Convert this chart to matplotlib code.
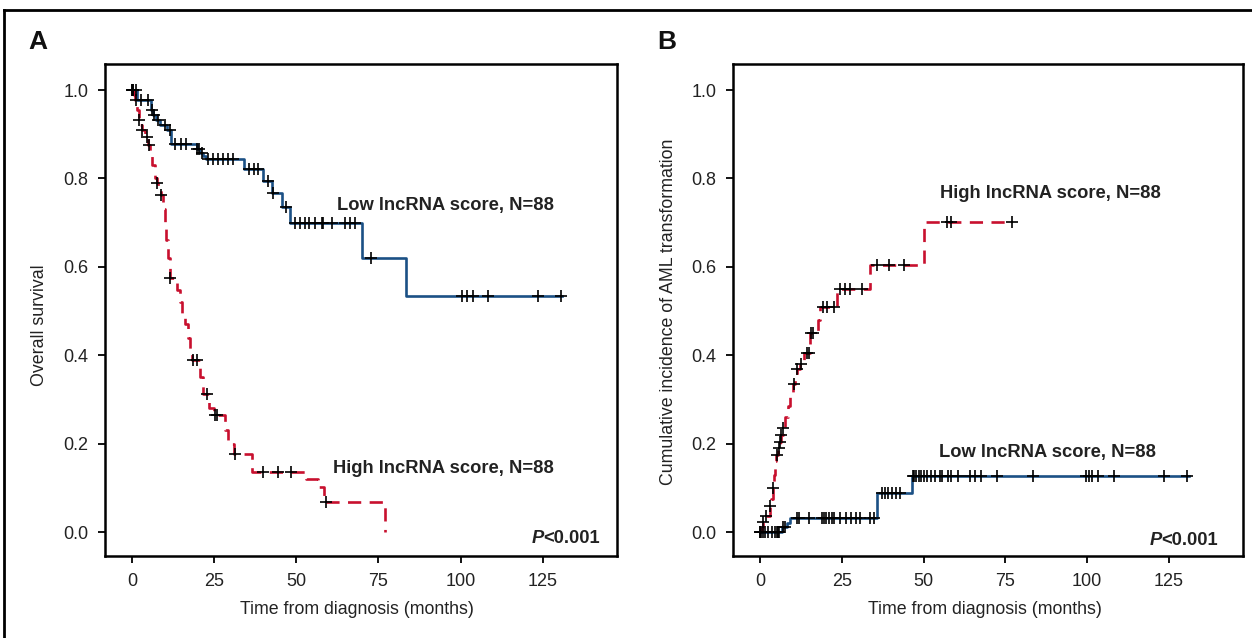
import numpy as np
import matplotlib
matplotlib.use("Agg")
import matplotlib.pyplot as plt
from matplotlib import font_manager as fm
from matplotlib.lines import Line2D

# ---------------- data ----------------
# Panel A: overall survival (Kaplan-Meier steps)
a_low_t = [0, 1.5, 5.8, 6.5, 7.3, 8.5, 10.8, 11.8, 19.8, 20.8, 21.7, 22.5, 34.0, 40.0, 42.5, 45.8, 48.0, 69.9, 83.5]
a_low_s = [1.0, 0.977, 0.955, 0.943, 0.932, 0.920, 0.909, 0.877, 0.867, 0.858, 0.851, 0.845, 0.821, 0.794, 0.767, 0.735, 0.699, 0.621, 0.534]
a_low_end = 131.0
a_low_cens = [0, 0.3, 1.2, 2.7, 5.0, 6.0, 6.8, 7.8, 10.0, 11.6, 13.2, 14.9, 16.4, 19.9, 20.4, 21.2, 23.0,
              24.6, 26.2, 27.7, 29.2, 30.7, 35.5, 37.0, 38.5, 41.5, 43.0, 47.0, 49.6, 51.0, 52.6, 54.0,
              55.7, 57.8, 58.2, 61.0, 64.8, 66.3, 67.8, 72.6, 100.3, 102.0, 103.8, 108.4, 123.6, 130.7]

a_high_t = [0, 0.5, 1.0, 1.5, 2.0, 2.5, 3.0, 4.0, 5.0, 5.5, 6.0, 7.0, 7.5, 8.0, 8.7, 9.5, 10.0, 10.5, 11.0,
            11.6, 13.6, 14.6, 15.3, 16.0, 17.0, 17.6, 18.3, 20.7, 21.7, 23.5, 25.0, 28.3, 29.3, 31.0, 36.4,
            53.1, 56.7, 58.5, 77.1]
a_high_s = [1.0, 0.989, 0.977, 0.955, 0.932, 0.920, 0.909, 0.893, 0.875, 0.855, 0.830, 0.800, 0.789, 0.775,
            0.762, 0.730, 0.700, 0.660, 0.620, 0.576, 0.547, 0.520, 0.495, 0.470, 0.440, 0.410, 0.390, 0.350,
            0.312, 0.280, 0.265, 0.230, 0.200, 0.176, 0.137, 0.120, 0.103, 0.069, 0.0]
a_high_cens = [0, 0.3, 1.2, 2.0, 3.0, 4.5, 5.3, 7.5, 8.7, 11.6, 18.6, 19.9, 22.9, 25.2, 25.9, 31.3, 40.0, 44.3, 48.4, 59.0]

# Panel B: cumulative incidence of AML transformation
b_high_t = [0, 0.8, 1.0, 2.0, 3.0, 3.5, 4.0, 4.3, 4.6, 5.0, 5.6, 6.1, 6.5, 7.0, 7.8, 8.5, 9.2, 10.0, 10.7,
            11.5, 12.3, 13.5, 15.4, 17.9, 18.4, 23.5, 33.7, 50.3]
b_high_s = [0.0, 0.011, 0.024, 0.036, 0.060, 0.075, 0.100, 0.130, 0.160, 0.175, 0.190, 0.205, 0.220, 0.235,
            0.260, 0.285, 0.310, 0.335, 0.355, 0.370, 0.380, 0.405, 0.450, 0.480, 0.510, 0.550, 0.604, 0.702]
b_high_end = 77.1
b_high_cens = [0, 1.0, 2.0, 3.1, 4.0, 5.3, 5.8, 6.3, 6.6, 7.1, 10.3, 11.5, 12.7, 14.3, 15.0, 15.6, 16.2,
               19.4, 20.6, 22.8, 24.5, 26.0, 27.6, 31.1, 35.8, 39.6, 43.9, 57.2, 58.4, 77.1]

b_low_t = [0, 6.9, 8.3, 9.3, 35.9, 46.5]
b_low_s = [0.0, 0.012, 0.020, 0.031, 0.088, 0.127]
b_low_end = 131.0
b_low_cens = [0, 0.5, 1.0, 1.5, 2.6, 3.6, 4.6, 5.1, 5.6, 5.9, 7.1, 7.6, 11.2, 12.0, 15.1, 18.9, 19.6, 20.2,
              21.2, 22.0, 22.7, 24.5, 26.3, 27.9, 29.4, 30.6, 33.7, 35.0, 37.2, 38.3, 39.3, 40.3, 41.7, 42.9,
              46.8, 47.2, 47.8, 48.5, 49.2, 50.2, 51.1, 52.3, 53.6, 54.9, 55.7, 57.4, 58.5, 60.4, 64.3, 65.8,
              67.6, 72.3, 83.4, 99.6, 100.6, 101.6, 103.2, 108.3, 123.4, 130.5]

x_ticks = [0, 25, 50, 75, 100, 125]
y_ticks = [0.0, 0.2, 0.4, 0.6, 0.8, 1.0]
label_low = "Low lncRNA score, N=88"
label_high = "High lncRNA score, N=88"
xlabel = "Time from diagnosis (months)"
ylabel_a = "Overall survival"
ylabel_b = "Cumulative incidence of AML transformation"

# ---------------- style ----------------
BLUE = "#1b5085"
RED = "#c8102e"
TXT = "#222222"
names = {f.name for f in fm.fontManager.ttflist}
NARROW = "Liberation Sans Narrow" if "Liberation Sans Narrow" in names else None
BASE = "Liberation Sans" if "Liberation Sans" in names else "DejaVu Sans"
plt.rcParams["font.family"] = [BASE, "DejaVu Sans"]

W, H = 1252, 638
fig = plt.figure(figsize=(W / 100, H / 100), dpi=100)
fig.patch.set_facecolor("white")


def px_axes(l, t, r, b):
    return fig.add_axes([l / W, 1 - b / H, (r - l) / W, (b - t) / H])


def step_val(ts, ss, c):
    i = np.searchsorted(np.asarray(ts), c, side="right") - 1
    return np.asarray(ss)[i]


def draw_curve(ax, ts, ss, end, cens, color, dashed):
    xs = list(ts)
    ys = list(ss)
    if end is not None:
        xs = xs + [end]
        ys = ys + [ss[-1]]
    line, = ax.step(xs, ys, color=color, lw=1.9, where="post", zorder=3)
    if dashed:
        line.set_dashes((5, 3.2))
    cy = [step_val(ts, ss, c) for c in cens]
    ax.plot(cens, cy, ls="none", marker="+", ms=9, mew=1.2, color="black", zorder=4)


def style_axes(ax):
    ax.set_xlim(-8.2, 147.6)
    ax.set_ylim(-0.054, 1.059)
    ax.set_xticks(x_ticks)
    ax.set_yticks(y_ticks)
    ax.set_yticklabels([f"{v:.1f}" for v in y_ticks])
    for s in ax.spines.values():
        s.set_linewidth(1.8)
    ax.tick_params(direction="out", length=5, width=1.3, labelsize=13, pad=7, labelcolor=TXT)


def pvalue(ax, x_right, y):
    t2 = ax.text(x_right, y, "<0.001", fontsize=13.2, fontweight="bold", ha="right", va="center", color=TXT)
    fig.canvas.draw()
    bb = t2.get_window_extent()
    xl = ax.transData.inverted().transform((bb.x0, bb.y0))[0]
    ax.text(xl + 0.3, y, "P", fontsize=13.2, fontweight="bold", fontstyle="italic", ha="right", va="center",
            color=TXT)


lab_font = dict(family=[NARROW, BASE] if NARROW else [BASE], fontsize=15 if NARROW else 12.8, color=TXT)

# Panel A
axA = px_axes(105, 64, 617, 556)
draw_curve(axA, a_low_t, a_low_s, a_low_end, a_low_cens, BLUE, False)
draw_curve(axA, a_high_t, a_high_s, None, a_high_cens, RED, True)
style_axes(axA)
axA.text(62.3, 0.740, label_low, fontsize=13.2, fontweight="bold", va="center", ha="left", color=TXT)
axA.text(61.1, 0.145, label_high, fontsize=13.2, fontweight="bold", va="center", ha="left", color=TXT)

# Panel B
axB = px_axes(733, 64, 1243, 556)
draw_curve(axB, b_high_t, b_high_s, b_high_end, b_high_cens, RED, True)
draw_curve(axB, b_low_t, b_low_s, b_low_end, b_low_cens, BLUE, False)
style_axes(axB)
axB.text(55.1, 0.767, label_high, fontsize=13.2, fontweight="bold", va="center", ha="left", color=TXT)
axB.text(54.8, 0.181, label_low, fontsize=13.2, fontweight="bold", va="center", ha="left", color=TXT)

pvalue(axA, 142.3, -0.014)
pvalue(axB, 139.9, -0.020)

# axis labels
fig.text(357 / W, 1 - 609 / H, xlabel, ha="center", va="center", **lab_font)
fig.text(985 / W, 1 - 609 / H, xlabel, ha="center", va="center", **lab_font)
fig.text(40 / W, 1 - 325 / H, ylabel_a, ha="center", va="center", rotation=90, **lab_font)
fig.text(668 / W, 1 - 312 / H, ylabel_b, ha="center", va="center", rotation=90, **lab_font)

# panel letters
pl_font = dict(family=[NARROW, BASE] if NARROW else [BASE], fontsize=21 if NARROW else 19, fontweight="bold",
               color="#111111")
fig.text(38 / W, 1 - 42 / H, "A", ha="center", va="center", **pl_font)
fig.text(667 / W, 1 - 42 / H, "B", ha="center", va="center", **pl_font)

# outer frame
fig.add_artist(Line2D([4 / W, 1.0], [1 - 10 / H, 1 - 10 / H], color="black", lw=2.0, transform=fig.transFigure))
fig.add_artist(Line2D([4 / W, 4 / W], [1 - 10 / H, 0.0], color="black", lw=2.0, transform=fig.transFigure))

fig.savefig("out.png", dpi=100)
